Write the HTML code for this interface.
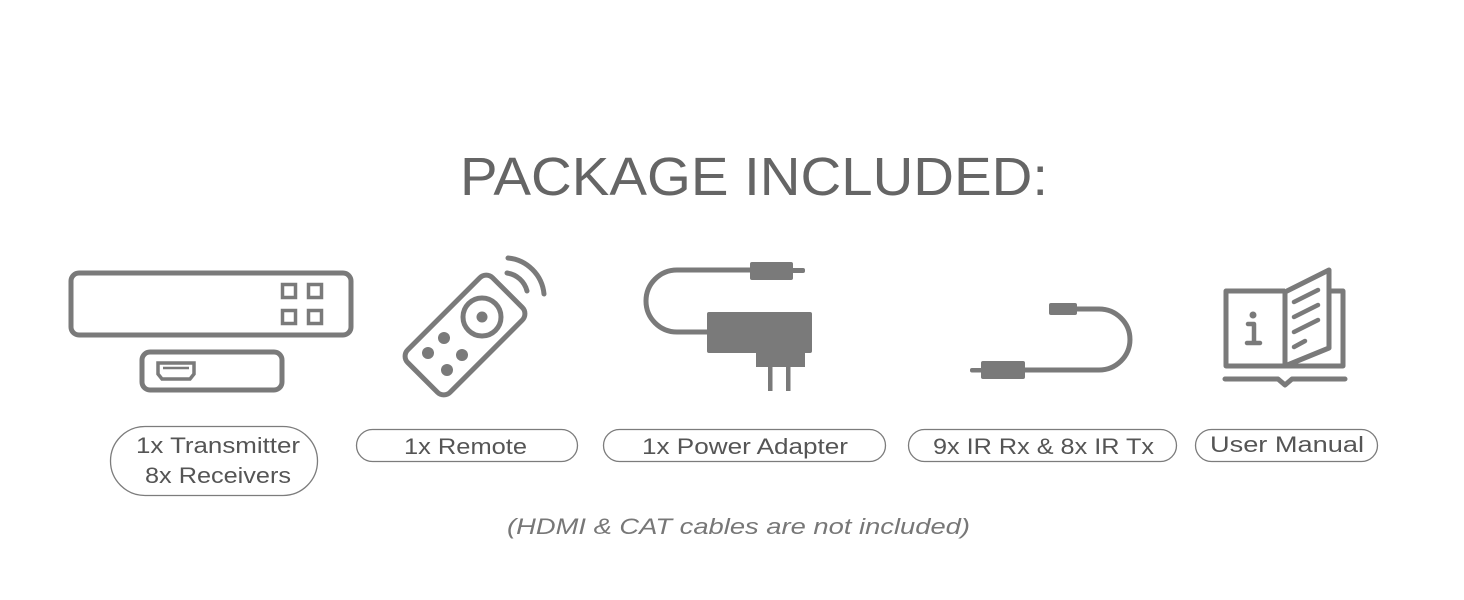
<!DOCTYPE html>
<html><head><meta charset="utf-8"><style>
html,body{margin:0;padding:0;background:#fff;}
svg{display:block;}
</style></head><body>
<svg width="1464" height="600" viewBox="0 0 1464 600" xmlns="http://www.w3.org/2000/svg">
<rect width="1464" height="600" fill="#fff"/>
<g font-family="Liberation Sans, sans-serif" fill="#656565">
<text x="460" y="195" font-size="54" textLength="588" lengthAdjust="spacingAndGlyphs">PACKAGE INCLUDED:</text>
</g>
<!-- transmitter & receiver -->
<g fill="none" stroke="#7a7a7a" stroke-width="5">
<rect x="71" y="273" width="280" height="62" rx="8"/>
<rect x="282.5" y="284.5" width="13" height="13" stroke-width="3.5"/>
<rect x="308.5" y="284.5" width="13" height="13" stroke-width="3.5"/>
<rect x="282.5" y="310.5" width="13" height="13" stroke-width="3.5"/>
<rect x="308.5" y="310.5" width="13" height="13" stroke-width="3.5"/>
<rect x="142" y="352" width="140" height="38" rx="8"/>
<path d="M158,363 H194 V374 L190,379 H162 L158,374 Z" stroke-width="3.5"/>
<path d="M163,368 H189" stroke-width="2.5"/>
</g>
<!-- remote -->
<g fill="none" stroke="#7a7a7a" stroke-width="5">
<rect x="435" y="275" width="60" height="120" rx="9" transform="rotate(45 465 335)"/>
<circle cx="482" cy="317" r="19"/>
<path d="M507,273 A24,24 0 0 1 527,291" stroke-linecap="round"/>
<path d="M508,258 A40,40 0 0 1 544,294" stroke-linecap="round"/>
</g>
<g fill="#7a7a7a">
<circle cx="482" cy="317" r="5.5"/>
<circle cx="444" cy="338" r="6"/>
<circle cx="428" cy="353" r="6"/>
<circle cx="462" cy="355" r="6"/>
<circle cx="447" cy="370" r="6"/>
</g>
<!-- power adapter -->
<g fill="#7a7a7a">
<rect x="750" y="262" width="43" height="18" rx="2"/>
<rect x="790" y="268" width="15" height="5" rx="2"/>
<rect x="707" y="312" width="105" height="41" rx="2"/>
<rect x="756" y="350" width="49" height="17"/>
<rect x="768" y="365" width="4.5" height="26"/>
<rect x="786" y="365" width="4.5" height="26"/>
</g>
<path d="M752,270 H677 A31,31 0 0 0 677,332 H710" fill="none" stroke="#7a7a7a" stroke-width="5"/>
<!-- IR cable -->
<g fill="#7a7a7a">
<rect x="1049" y="303" width="28" height="12" rx="2"/>
<rect x="981" y="361" width="44" height="18" rx="2"/>
<rect x="970" y="368" width="14" height="4.5" rx="2"/>
</g>
<path d="M1075,309 H1099 A31,30.5 0 0 1 1099,370 H1022" fill="none" stroke="#7a7a7a" stroke-width="5"/>
<!-- book -->
<g fill="none" stroke="#7a7a7a" stroke-width="5" stroke-linejoin="round">
<path d="M1285,291 H1226 V366 H1285"/>
<path d="M1330,291 H1343 V366 H1285"/>
<path d="M1285,292 L1329,270 V348 L1285,366 Z"/>
<path d="M1225,379 H1278 L1285,385 L1292,379 H1345" stroke-linecap="round"/>
<g stroke-linecap="round" stroke-width="4.5">
<path d="M1294,302 L1318,290"/>
<path d="M1294,317 L1318,305"/>
<path d="M1294,332 L1318,320"/>
<path d="M1294,347 L1305,341"/>
</g>
<path d="M1248,324 H1254 V343 M1247,343 H1260" stroke-width="4.5" stroke-linecap="round"/>
</g>
<circle cx="1253" cy="315" r="3.5" fill="#7a7a7a"/>
<!-- pills -->
<g fill="none" stroke="#7c7c7c" stroke-width="1.3">
<rect x="110.5" y="426.5" width="207" height="69" rx="34.5"/>
<rect x="356.5" y="429.5" width="221" height="32" rx="16"/>
<rect x="603.5" y="429.5" width="282" height="32" rx="16"/>
<rect x="908.5" y="429.5" width="268" height="32" rx="16"/>
<rect x="1195.5" y="429.5" width="182" height="32" rx="16"/>
</g>
<g font-family="Liberation Sans, sans-serif" fill="#555" font-size="22">
<text x="136" y="453" textLength="164" lengthAdjust="spacingAndGlyphs">1x Transmitter</text>
<text x="145" y="483" textLength="146" lengthAdjust="spacingAndGlyphs">8x Receivers</text>
<text x="404" y="454" textLength="123" lengthAdjust="spacingAndGlyphs">1x Remote</text>
<text x="642" y="454" textLength="206" lengthAdjust="spacingAndGlyphs">1x Power Adapter</text>
<text x="933" y="454" textLength="221" lengthAdjust="spacingAndGlyphs">9x IR Rx &amp; 8x IR Tx</text>
<text x="1210" y="452" textLength="154" lengthAdjust="spacingAndGlyphs">User Manual</text>
<text x="507" y="534" font-style="italic" fill="#777" textLength="463" lengthAdjust="spacingAndGlyphs">(HDMI &amp; CAT cables are not included)</text>
</g>
</svg>
</body></html>
